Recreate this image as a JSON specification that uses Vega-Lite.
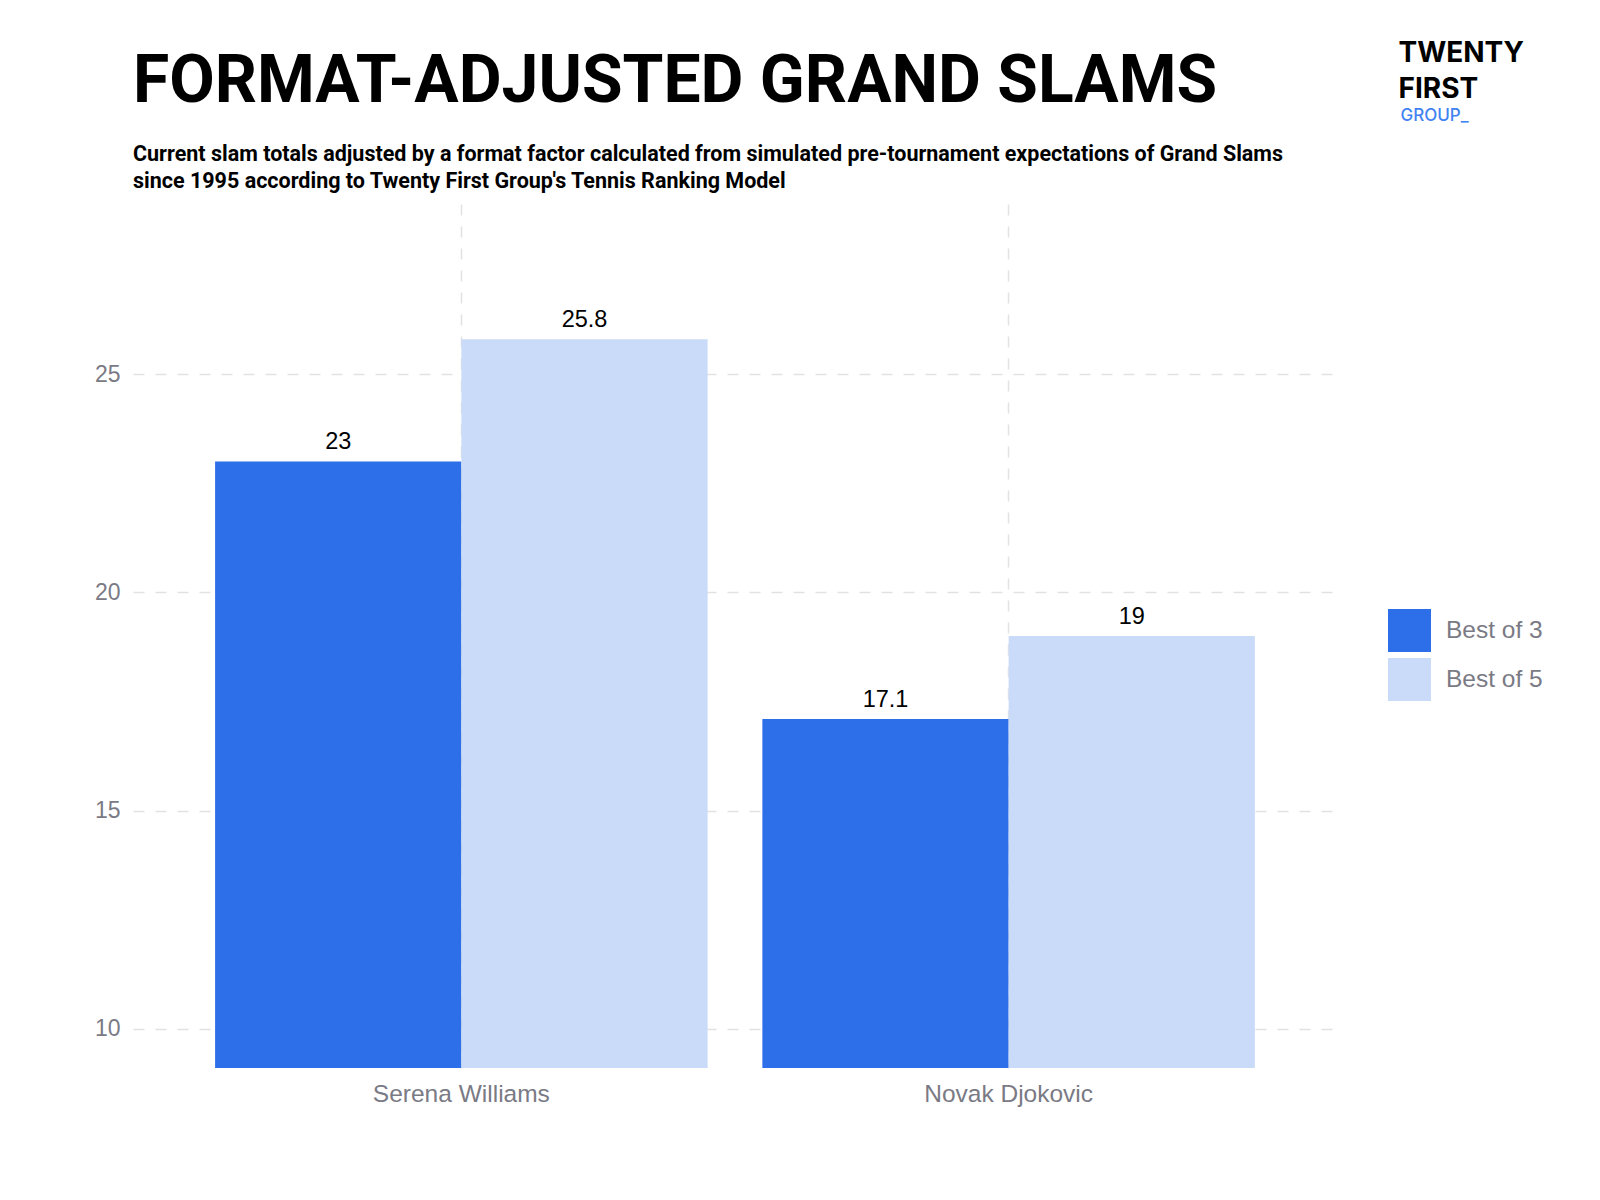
{
  "$schema": "https://vega.github.io/schema/vega-lite/v6.json",
  "width": 1204,
  "height": 864,
  "autosize": {"type": "none"},
  "padding": {"left": 133, "top": 204, "right": 263, "bottom": 132},
  "background": "white",
  "title": {
    "text": "FORMAT-ADJUSTED GRAND SLAMS",
    "subtitle": [
      "Current slam totals adjusted by a format factor calculated from simulated pre-tournament expectations of Grand Slams",
      "since 1995 according to Twenty First Group's Tennis Ranking Model"
    ],
    "anchor": "start",
    "frame": "group",
    "font": "Roboto",
    "fontSize": 66,
    "fontWeight": "bold",
    "color": "#000000",
    "subtitleFont": "Roboto",
    "subtitleFontSize": 21.5,
    "subtitleFontWeight": "bold",
    "subtitleColor": "#000000",
    "subtitlePadding": 28,
    "subtitleLineHeight": 27,
    "offset": 14,
    "dy": 168
  },
  "config": {
    "view": {"stroke": null}
  },
  "data": {
    "values": [
      {"player": "Serena Williams", "format": "Best of 3", "slams": 23},
      {"player": "Serena Williams", "format": "Best of 5", "slams": 25.8},
      {"player": "Novak Djokovic", "format": "Best of 3", "slams": 17.1},
      {"player": "Novak Djokovic", "format": "Best of 5", "slams": 19}
    ]
  },
  "encoding": {
    "x": {
      "field": "player",
      "type": "nominal",
      "sort": ["Serena Williams", "Novak Djokovic"],
      "scale": {"paddingInner": 0.1, "paddingOuter": 0.15},
      "axis": {
        "title": ["TWENTY", "FIRST"],
        "titleX": 1265,
        "titleY": -1007,
        "titleAlign": "left",
        "titleBaseline": "alphabetic",
        "titleFont": "Inter",
        "titleFontSize": 28,
        "titleFontWeight": "bold",
        "titleColor": "#000000",
        "titleLineHeight": 36,
        "labelAngle": 0,
        "labelFont": "Liberation Sans",
        "labelFontSize": 24.5,
        "labelColor": "#7a7a85",
        "labelPadding": 14,
        "ticks": false,
        "domain": false,
        "grid": true,
        "bandPosition": 0.5,
        "gridDash": [11, 11],
        "gridColor": "#e2e2e2",
        "gridWidth": 1.5
      }
    },
    "xOffset": {
      "field": "format",
      "type": "nominal",
      "scale": {"paddingInner": 0, "paddingOuter": 0}
    },
    "y": {
      "field": "slams",
      "type": "quantitative",
      "scale": {"domain": [9.1, 28.9], "zero": false, "nice": false},
      "axis": {
        "values": [10, 15, 20, 25],
        "title": "GROUP_",
        "titleAngle": 0,
        "titleX": 1267,
        "titleY": -84,
        "titleAlign": "left",
        "titleBaseline": "alphabetic",
        "titleFont": "Inter",
        "titleFontSize": 17,
        "titleFontWeight": 500,
        "titleColor": "#3f83f2",
        "labelFont": "Liberation Sans",
        "labelFontSize": 23,
        "labelColor": "#7a7a85",
        "labelPadding": 13,
        "ticks": false,
        "domain": false,
        "grid": true,
        "gridDash": [11, 11],
        "gridColor": "#e2e2e2",
        "gridWidth": 1.5
      }
    }
  },
  "layer": [
    {
      "mark": {"type": "bar", "clip": true},
      "encoding": {
        "y2": {"datum": 9.1},
        "color": {
          "field": "format",
          "type": "nominal",
          "scale": {"domain": ["Best of 3", "Best of 5"], "range": ["#2d6fe9", "#cadbf9"]},
          "legend": {
            "title": null,
            "orient": "none",
            "legendX": 1255,
            "legendY": 405,
            "padding": 0,
            "symbolType": "square",
            "symbolSize": 1849,
            "symbolStrokeWidth": 0,
            "symbolOpacity": 1,
            "labelFont": "Liberation Sans",
            "labelFontSize": 24.5,
            "labelColor": "#7a7a85",
            "labelOffset": 15,
            "rowPadding": 6
          }
        }
      }
    },
    {
      "mark": {
        "type": "text",
        "baseline": "alphabetic",
        "dy": -12,
        "font": "Liberation Sans",
        "fontSize": 23.5,
        "color": "#000000"
      },
      "encoding": {
        "text": {"field": "slams", "type": "nominal"}
      }
    }
  ]
}
